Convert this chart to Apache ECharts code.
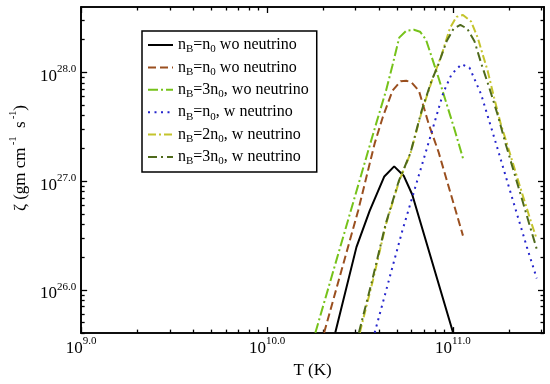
<!DOCTYPE html>
<html><head><meta charset="utf-8">
<script src="https://cdn.jsdelivr.net/npm/echarts@6/dist/echarts.min.js"></script>
<style>html,body{margin:0;padding:0;background:#fff}#c{width:550px;height:384px}</style>
</head><body><div id="c"></div>
<script>
// All values are log10 exponents (both axes are logarithmic: T in K, zeta in gm cm^-1 s^-1)
const xMajor = [9, 10, 11];          // tick labels 10^{9.0}, 10^{10.0}, 10^{11.0}
const yMajor = [26, 27, 28];         // tick labels 10^{26.0} ...
const minorMult = [2, 3, 4, 5, 6, 7, 8, 9];

// nB=n0 wo neutrino (black solid)
const s1LogT = [10.367, 10.481, 10.552, 10.631, 10.684, 10.735, 10.781, 11.001];
const s1LogZ = [25.605, 26.393, 26.727, 27.043, 27.136, 27.050, 26.877, 25.605];
// nB=n0 wo neutrino (brown dashed)
const s2LogT = [10.307, 10.490, 10.579, 10.623, 10.675, 10.719, 10.749, 10.776, 10.817, 10.869, 10.922, 11.054];
const s2LogZ = [25.605, 26.727, 27.347, 27.590, 27.832, 27.920, 27.923, 27.911, 27.832, 27.529, 27.272, 26.499];
// nB=3n0, wo neutrino (green dash-dot)
const s3LogT = [10.260, 10.543, 10.587, 10.640, 10.675, 10.711, 10.749, 10.790, 10.823, 10.855, 10.887, 10.922, 10.966, 11.010, 11.054];
const s3LogZ = [25.605, 27.272, 27.529, 27.832, 28.066, 28.320, 28.384, 28.393, 28.375, 28.302, 28.136, 27.954, 27.711, 27.468, 27.211];
// nB=n0, w neutrino (blue dotted)
const s4LogT = [10.579, 10.728, 10.860, 10.949, 10.993, 11.046, 11.089, 11.151, 11.221, 11.292, 11.345, 11.398, 11.451];
const s4LogZ = [25.605, 26.545, 27.302, 27.817, 27.984, 28.075, 28.045, 27.802, 27.408, 26.999, 26.696, 26.393, 26.105];
// nB=2n0, w neutrino (yellow dash-dot)
const s5LogT = [10.499, 10.570, 10.640, 10.711, 10.772, 10.834, 10.887, 10.940, 10.984, 11.019, 11.054, 11.098, 11.134, 11.160, 11.187, 11.221, 11.257, 11.301, 11.363, 11.424, 11.451];
const s5LogZ = [25.605, 26.090, 26.605, 27.002, 27.257, 27.650, 27.923, 28.166, 28.408, 28.511, 28.529, 28.468, 28.317, 28.166, 28.014, 27.772, 27.529, 27.287, 26.938, 26.605, 26.466];
// nB=3n0, w neutrino (dark olive dash-dot)
const s6LogT = [10.494, 10.566, 10.638, 10.709, 10.771, 10.832, 10.885, 10.922, 10.966, 11.003, 11.040, 11.077, 11.116, 11.151, 11.195, 11.239, 11.283, 11.363, 11.416, 11.451];
const s6LogZ = [25.605, 26.090, 26.605, 27.002, 27.257, 27.650, 27.923, 28.075, 28.287, 28.402, 28.438, 28.402, 28.287, 28.090, 27.863, 27.620, 27.347, 26.884, 26.575, 26.375];

const legendLabels = [
  '{t|n}{sub|B}{t|=n}{sub|0}{t| wo neutrino}',
  '{t|n}{sub|B}{t|=n}{sub|0}{t| wo neutrino}',
  '{t|n}{sub|B}{t|=3n}{sub|0}{t|, wo neutrino}',
  '{t|n}{sub|B}{t|=n}{sub|0}{t|, w neutrino}',
  '{t|n}{sub|B}{t|=2n}{sub|0}{t|, w neutrino}',
  '{t|n}{sub|B}{t|=3n}{sub|0}{t|, w neutrino}'
];

const FONT = '"Liberation Serif","Times New Roman",serif';
const X_MIN = 9, X_MAX = 11.49, Y_MIN = 25.602, Y_MAX = 28.602;

function minors(lo, hi) {
  const out = [];
  for (let d = Math.floor(lo) - 1; d <= Math.ceil(hi); d++) {
    for (const m of minorMult) {
      const v = d + Math.log10(m);
      if (v > lo + 1e-6 && v < hi - 1e-6) out.push(v);
    }
  }
  return out;
}
const supRich = {
  b: {fontFamily: FONT, fontSize: 17, lineHeight: 17, padding: [4, 0, 0, 0], verticalAlign: 'top', color: '#000'},
  s: {fontFamily: FONT, fontSize: 11, lineHeight: 10, verticalAlign: 'top', color: '#000'}
};
const fmt = v => '{b|10}{s|' + Number(v).toFixed(1) + '}';

function mkAxis(isX, pos, ticks, len, labels) {
  const ax = {
    type: 'value', position: pos,
    min: isX ? X_MIN : Y_MIN, max: isX ? X_MAX : Y_MAX,
    axisLine: {show: true, onZero: false, lineStyle: {color: '#000', width: 1.6}},
    axisTick: {show: true, inside: true, length: len, customValues: ticks, lineStyle: {color: '#000', width: 1.3}},
    axisLabel: {show: false},
    splitLine: {show: false}
  };
  if (labels) {
    ax.axisLabel = {show: true, customValues: labels, formatter: fmt, margin: isX ? 3 : 5, rich: supRich};
  }
  return ax;
}

const xAxes = [
  mkAxis(true, 'bottom', xMajor, 6, xMajor),
  mkAxis(true, 'bottom', minors(X_MIN, X_MAX), 3.5, null),
  mkAxis(true, 'top', xMajor, 6, null),
  mkAxis(true, 'top', minors(X_MIN, X_MAX), 3.5, null)
];
xAxes[0].name = 'T (K)';
xAxes[0].nameLocation = 'middle';
xAxes[0].nameGap = 23;
xAxes[0].nameTextStyle = {fontFamily: FONT, fontSize: 17, color: '#000'};

const yAxes = [
  mkAxis(false, 'left', yMajor, 6, yMajor),
  mkAxis(false, 'left', minors(Y_MIN, Y_MAX), 3.5, null),
  mkAxis(false, 'right', yMajor, 6, null),
  mkAxis(false, 'right', minors(Y_MIN, Y_MAX), 3.5, null)
];
yAxes[0].name = '{g|ζ (gm cm}{s| -1}{g|  s}{s| -1}{g|)}';
yAxes[0].nameLocation = 'middle';
yAxes[0].nameGap = 46;
yAxes[0].nameTextStyle = {
  padding: [0, 0, 0, 24],
  rich: {
    g: {fontFamily: FONT, fontSize: 17, lineHeight: 17, padding: [4, 0, 0, 0], verticalAlign: 'top', color: '#000'},
    s: {fontFamily: FONT, fontSize: 10, lineHeight: 10, verticalAlign: 'top', color: '#000'}
  }
};

const zip = (a, b) => a.map((v, i) => [v, b[i]]);
const specs = [
  {t: s1LogT, z: s1LogZ, color: '#000000', type: 'solid'},
  {t: s2LogT, z: s2LogZ, color: '#9a4f1f', type: [8, 4]},
  {t: s3LogT, z: s3LogZ, color: '#76c21a', type: [10, 3, 2, 3]},
  {t: s4LogT, z: s4LogZ, color: '#2424cc', type: [2, 4.5]},
  {t: s5LogT, z: s5LogZ, color: '#c4c42c', type: [8, 3, 2, 3]},
  {t: s6LogT, z: s6LogZ, color: '#4f6a1c', type: [9, 4, 2, 4]}
];
const names = specs.map((s, i) => 'S' + i);
const series = specs.map((s, i) => ({
  name: names[i], type: 'line', data: zip(s.t, s.z),
  xAxisIndex: 0, yAxisIndex: 0, symbol: 'none', smooth: false, clip: true,
  color: s.color,
  lineStyle: {color: s.color, width: 2, type: s.type},
  animation: false
}));

const chart = echarts.init(document.getElementById('c'));
chart.setOption({
  animation: false,
  backgroundColor: '#fff',
  grid: {left: 73, right: 6, top: 7, bottom: 47, containLabel: false},
  xAxis: xAxes,
  yAxis: yAxes,
  legend: {
    data: names, orient: 'vertical', left: 142, top: 31,
    itemWidth: 25, itemHeight: 12, itemGap: 4.4, padding: [6, 8, 5, 5],
    borderColor: '#000', borderWidth: 1.5, backgroundColor: '#fff', borderRadius: 0,
    selectedMode: false,
    itemStyle: {opacity: 0},
    formatter: name => legendLabels[names.indexOf(name)],
    textStyle: {
      rich: {
        t: {fontFamily: FONT, fontSize: 16, lineHeight: 16, verticalAlign: 'top', color: '#000'},
        sub: {fontFamily: FONT, fontSize: 11, lineHeight: 10, padding: [7, 0, 0, 0], verticalAlign: 'top', color: '#000'}
      }
    }
  },
  series: series
});
</script>
</body></html>
